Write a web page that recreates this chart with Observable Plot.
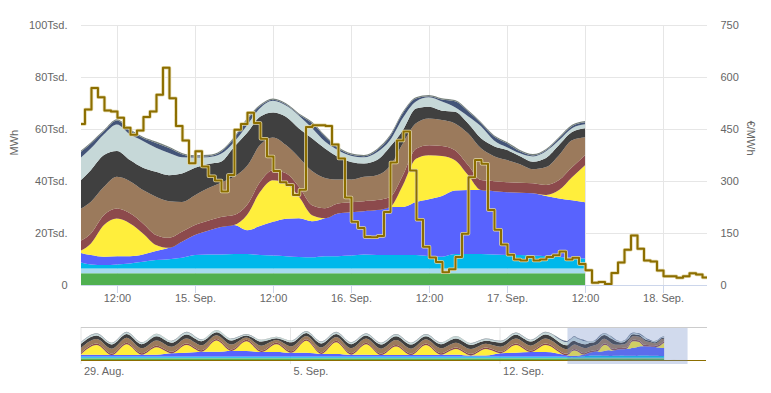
<!DOCTYPE html>
<html><head><meta charset="utf-8">
<script src="https://cdn.jsdelivr.net/npm/d3@7"></script>
<script src="https://cdn.jsdelivr.net/npm/@observablehq/plot@0.6"></script>
<style>
body{margin:0;background:#fff;}
#chart{position:relative;width:771px;height:393px;}
#main{position:absolute;left:0;top:0;}
#nav{position:absolute;left:0;top:310px;}
</style></head><body><div id="chart"><div id="main"></div><div id="nav"></div></div>
<script>
// ---------- layers ----------
const layerNames = ["Biomasse","Wasserkraft","Wind Offshore","Wind Onshore","Solar","Kernenergie","Braunkohle","Steinkohle","Erdgas","Öl","Andere"];
const layerColors = ["#50b050","#a6daf0","#00b8eb","#5863fe","#ffee3c","#8c4a4c","#9b7a5c","#404040","#c6d8d8","#435478","#78827d"];

// ---------- main chart (thousand MWh) ----------
const areaTimes = ["2022-09-14T06:00","2022-09-14T08:00","2022-09-14T10:00","2022-09-14T12:00","2022-09-14T14:00","2022-09-14T16:00","2022-09-14T18:00","2022-09-14T20:00","2022-09-14T22:00",
"2022-09-15T00:00","2022-09-15T02:00","2022-09-15T04:00","2022-09-15T06:00","2022-09-15T08:00","2022-09-15T10:00","2022-09-15T12:00","2022-09-15T14:00","2022-09-15T16:00","2022-09-15T18:00","2022-09-15T20:00","2022-09-15T22:00",
"2022-09-16T00:00","2022-09-16T02:00","2022-09-16T04:00","2022-09-16T06:00","2022-09-16T08:00","2022-09-16T10:00","2022-09-16T12:00","2022-09-16T14:00","2022-09-16T16:00","2022-09-16T18:00","2022-09-16T20:00","2022-09-16T22:00",
"2022-09-17T00:00","2022-09-17T02:00","2022-09-17T04:00","2022-09-17T06:00","2022-09-17T08:00","2022-09-17T10:00","2022-09-17T12:00"];
const biomass  = [4.5,4.5,4.5,4.5,4.5,4.5,4.5,4.5,4.5,4.5,4.5,4.5,4.5,4.5,4.5,4.5,4.5,4.5,4.5,4.5,4.5,4.5,4.5,4.5,4.5,4.5,4.5,4.5,4.5,4.5,4.5,4.5,4.5,4.5,4.5,4.5,4.5,4.5,4.5,4.5];
const hydro    = [1.8,1.8,1.8,1.8,1.8,1.8,1.8,1.8,1.8,1.8,1.8,1.8,1.8,1.8,1.8,1.8,1.8,1.8,1.8,1.8,1.8,1.8,1.8,1.8,1.8,1.8,1.8,1.8,1.8,1.8,1.8,1.8,1.8,1.8,1.8,1.8,1.8,1.8,1.8,1.8];
const offshore = [2.7,1.6,1.35,1.6,2.0,2.6,3.3,3.65,4.15,5.2,5.45,5.4,5.6,5.6,5.2,5.0,4.8,4.5,4.4,4.8,4.8,5.0,5.45,5.2,5.2,5.2,5.2,4.8,4.6,5.6,5.6,5.6,5.4,5.2,5.2,5.0,4.8,4.5,4.2,3.9];
const onshore  = [3.65,3.6,3.2,3.2,2.8,2.85,3.5,4.35,6.15,7.7,9.1,10.6,11.15,9.2,11.15,13.0,14.4,14.9,13.85,14.6,16.4,16.7,16.65,17.3,18.5,18.5,20.4,21.9,23.3,24.4,24.6,24.6,24.4,24.2,24.0,24.0,23.1,22.5,22.1,21.65];
const solar    = [0,4.5,12.2,14.5,12.6,8.1,2.3,0,0,0,0,0,0,5.8,13.1,16.0,13.65,8.2,2.3,0,0,0,0,0,0,8.5,16.7,16.9,15.4,11.7,5.8,0,0,0,0,0,0.4,3.2,8.85,14.2];
const nuclear  = [3.85,3.85,3.85,3.85,3.85,3.85,3.85,3.85,3.85,3.85,3.85,3.85,3.85,3.85,3.85,3.85,3.85,3.85,3.85,3.85,3.85,3.85,3.85,3.85,3.85,3.85,3.85,3.85,3.85,3.85,3.85,3.85,3.85,3.85,3.85,3.85,3.85,3.85,3.85,3.85];
const lignite  = [12.3,12.2,10.9,12.2,12.4,12.8,14.7,14.1,11.5,11.5,12.5,13.2,14.7,15.0,14.2,12.6,10.8,11.3,13.1,11.65,9.2,8.7,9.35,9.6,11.9,12.2,9.8,10.3,10.0,10.3,12.2,12.2,9.6,8.5,7.1,5.4,6.9,9.6,10.4,6.9];
const coal     = [10.4,12.2,12.2,9.9,8.1,8.6,9.6,10.0,10.9,10.5,9.35,8.1,11.5,12.7,10.9,9.6,10.9,11.15,12.6,11.3,8.7,6.8,5.15,5.8,7.4,5.1,5.65,4.5,3.6,4.5,3.85,3.85,3.85,3.85,3.1,2.9,3.5,3.85,3.1,3.5];
const gas      = [8.8,8.3,8.0,10.2,9.9,10.3,9.2,8.5,6.3,4.0,2.6,3.0,1.85,2.9,3.3,4.5,4.3,4.9,4.0,2.7,2.6,2.4,2.35,3.0,2.5,4.65,2.7,3.65,3.5,1.7,2.7,4.65,2.2,1.1,1.1,2.0,2.6,1.85,1.5,1.5];
const oil      = [2.3,1.9,1.15,1.5,1.5,1.15,1.9,1.9,1.15,0.4,0.4,0.8,1.5,2.3,0.8,0.4,0.4,0.4,1.9,1.9,0.8,0.4,0.4,0.8,1.5,1.9,1.15,0.4,0.8,2.3,1.9,1.15,1.5,1.5,0.8,0.4,0.4,0.8,0.8,0.8];
const others   = [0.5,0.5,0.5,0.5,0.5,0.5,0.5,0.5,0.5,0.5,0.5,0.5,0.5,0.5,0.5,0.5,0.5,0.5,0.5,0.5,0.5,0.5,0.5,0.5,0.5,0.5,0.5,0.5,0.5,0.5,0.5,0.5,0.5,0.5,0.5,0.5,0.5,0.5,0.5,0.5];
const layerValues = [biomass,hydro,offshore,onshore,solar,nuclear,lignite,coal,gas,oil,others];

// ---------- day-ahead price (€/MWh), hourly ----------
const priceSep14 = [466,508,570,543,505,502,484,455,435,447,486,502,550,628,540,460,418,353]; // from 06:00
const priceSep15 = [387,343,315,303,271,319,449,466,498,469,423,372,330,298,290,261,276,457,462,462,460,407,366,254];
const priceSep16 = [184,166,140,139,143,212,355,418,444,332,190,112,81,68,38,47,82,149,312,362,351,218,161,118];
const priceSep17 = [89,75,72,82,72,75,82,87,98,75,80,62,44,8,10,4,36,66,103,144,106,72,69,43];
const priceSep18 = [27,27,22,27,35,32,23]; // from 00:00
const priceDays = [["2022-09-14",6,priceSep14],["2022-09-15",0,priceSep15],["2022-09-16",0,priceSep16],["2022-09-17",0,priceSep17],["2022-09-18",0,priceSep18]];

// ---------- axes ----------
const yTicks = [0,20,40,60,80,100];
const yTickLabels = ["0","20Tsd.","40Tsd.","60Tsd.","80Tsd.","100Tsd."];
const priceTickLabels = ["0","150","300","450","600","750"];
const priceMax = 750;
const xTickTimes = ["2022-09-14T12:00","2022-09-15T00:00","2022-09-15T12:00","2022-09-16T00:00","2022-09-16T12:00","2022-09-17T00:00","2022-09-17T12:00","2022-09-18T00:00"];
const xTickLabels = ["12:00","15. Sep.","12:00","16. Sep.","12:00","17. Sep.","12:00","18. Sep."];
const mainDomain = ["2022-09-14T06:28","2022-09-18T06:46"];

// ---------- navigator (thousand MWh) ----------
const navTimes = ["2022-08-29T00:00","2022-08-29T13:00","2022-08-30T01:00","2022-08-30T13:00","2022-08-31T01:00","2022-08-31T13:00","2022-09-01T01:00","2022-09-01T13:00",
"2022-09-02T01:00","2022-09-02T13:00","2022-09-03T01:00","2022-09-03T13:00","2022-09-04T01:00","2022-09-04T13:00","2022-09-05T01:00","2022-09-05T13:00",
"2022-09-06T01:00","2022-09-06T13:00","2022-09-07T01:00","2022-09-07T13:00","2022-09-08T01:00","2022-09-08T13:00","2022-09-09T01:00","2022-09-09T13:00",
"2022-09-10T01:00","2022-09-10T13:00","2022-09-11T01:00","2022-09-11T13:00","2022-09-12T01:00","2022-09-12T13:00","2022-09-13T01:00","2022-09-13T13:00"];
const navBiomass  = [4.5,4.5,4.5,4.5,4.5,4.5,4.5,4.5,4.5,4.5,4.5,4.5,4.5,4.5,4.5,4.5,4.5,4.5,4.5,4.5,4.5,4.5,4.5,4.5,4.5,4.5,4.5,4.5,4.5,4.5,4.5,4.5];
const navHydro    = [1.8,1.8,1.8,1.8,1.8,1.8,1.8,1.8,1.8,1.8,1.8,1.8,1.8,1.8,1.8,1.8,1.8,1.8,1.8,1.8,1.8,1.8,1.8,1.8,1.8,1.8,1.8,1.8,1.8,1.8,1.8,1.8];
const navOffshore = [3,3,3,3,3,3,3,3,3,3,3,3,3,3,3,3,3,3,3,3,3,3,3,3,3,3,3,3,3,3,3,3];
const navOnshore  = [5,5,4,4,5,5,9,10,13,13,15,15,12,12,10,10,7,7,5,5,4,4,4,4,5,5,3,3,9,10,12,12];
const navSolar    = [0,26,0,29,0,20,0,21,0,30,0,26,0,21,0,32,0,31,0,28,0,23,0,27,0,15,0,17,0,21,0,19];
const navNuclear  = [3.85,3.85,3.85,3.85,3.85,3.85,3.85,3.85,3.85,3.85,3.85,3.85,3.85,3.85,3.85,3.85,3.85,3.85,3.85,3.85,3.85,3.85,3.85,3.85,3.85,3.85,3.85,3.85,3.85,3.85,3.85,3.85];
const navLignite  = [13,12,13,13,13,14,13,13,13,10,13,6,13,7,13,9,13,10,13,11,13,13,13,11,13,13,13,10,13,13,13,13];
const navCoal     = [11,9,11,10,11,11,11,11,11,8,11,5,11,5,11,8,11,8,11,8,11,10,11,8,11,11,11,8,11,10,11,11];
const navGas      = [4,5,4,5,4,6,4,6,4,5,4,3,4,3,4,4,4,5,4,5,4,5,4,5,4,6,4,5,4,5,4,6];
const navOil      = [0.5,0.5,0.5,0.5,0.5,0.5,0.5,0.5,0.5,0.5,0.5,0.5,0.5,0.5,0.5,0.5,0.5,0.5,0.5,0.5,0.5,0.5,0.5,0.5,0.5,0.5,0.5,0.5,0.5,0.5,0.5,0.5];
const navOthers   = [0.5,0.5,0.5,0.5,0.5,0.5,0.5,0.5,0.5,0.5,0.5,0.5,0.5,0.5,0.5,0.5,0.5,0.5,0.5,0.5,0.5,0.5,0.5,0.5,0.5,0.5,0.5,0.5,0.5,0.5,0.5,0.5];
const navLayerValues = [navBiomass,navHydro,navOffshore,navOnshore,navSolar,navNuclear,navLignite,navCoal,navGas,navOil,navOthers];
const navDomain = ["2022-08-29T00:24","2022-09-18T21:34"];
const navTickTimes = ["2022-08-29T00:00","2022-09-05T00:00","2022-09-12T00:00"];
const navTickLabels = ["29. Aug.","5. Sep.","12. Sep."];

// ---------- build tables ----------
const T = s => new Date(s + ":00Z");
const areaData = [];
layerNames.forEach((name, li) => layerValues[li].forEach((v, i) => areaData.push({t: T(areaTimes[i]), layer: name, v})));
const navData = [];
layerNames.forEach((name, li) => {
  navLayerValues[li].forEach((v, i) => navData.push({t: T(navTimes[i]), layer: name, v}));
  layerValues[li].forEach((v, i) => navData.push({t: T(areaTimes[i]), layer: name, v}));
});
const priceData = [];
priceDays.forEach(([day, h0, arr]) => arr.forEach((p, i) => priceData.push({t: new Date(Date.parse(day + "T00:00:00Z") + (h0 + i) * 3600e3), p})));
const lastP = priceData[priceData.length - 1];
priceData.push({t: new Date(+lastP.t + 3600e3), p: lastP.p});

const xTicksD = xTickTimes.map(T);
const navTicksD = navTickTimes.map(T);
const font = {fontFamily: "'Liberation Sans', Arial, sans-serif", fontSize: "11px", color: "#666666", background: "white", overflow: "visible"};
const colorScale = {domain: layerNames, range: layerColors};

const main = Plot.plot({
  width: 771, height: 310,
  marginLeft: 81, marginRight: 64, marginTop: 25, marginBottom: 25,
  style: font,
  x: {type: "utc", domain: mainDomain.map(T)},
  y: {domain: [0, 100]},
  color: colorScale,
  marks: [
    Plot.gridY(yTicks, {stroke: "#e6e6e6", strokeOpacity: 1}),
    Plot.gridX(xTicksD, {stroke: "#e6e6e6", strokeOpacity: 1}),
    Plot.areaY(areaData, {x: "t", y: "v", z: "layer", fill: "layer", order: layerNames, curve: "monotone-x", clip: true}),
    Plot.ruleY([0], {stroke: "#ccd6eb"}),
    Plot.line(priceData, {x: "t", y: d => d.p * 100 / priceMax, curve: "step-after", stroke: "#e2d7a8", strokeWidth: 3.5, clip: true}),
    Plot.line(priceData, {x: "t", y: d => d.p * 100 / priceMax, curve: "step-after", stroke: "#8c6e00", strokeWidth: 2, clip: true}),
    Plot.axisY({ticks: yTicks, tickFormat: d => yTickLabels[yTicks.indexOf(d)], tickSize: 0, tickPadding: 14, label: null, fill: "#666"}),
    Plot.axisY({anchor: "right", ticks: yTicks, tickFormat: d => priceTickLabels[yTicks.indexOf(d)], tickSize: 0, tickPadding: 13, label: null, fill: "#666"}),
    Plot.axisX({ticks: xTicksD, tickFormat: d => xTickLabels[xTicksD.findIndex(t => +t === +d)], tickSize: 8, tickPadding: 1, stroke: "#ccd6eb", fill: "#666", label: null}),
    Plot.text(["MWh"], {text: d => d, frameAnchor: "left", dx: -67, rotate: -90, fill: "#666", fontSize: 11}),
    Plot.text(["€/MWh"], {text: d => d, frameAnchor: "right", dx: 43, rotate: 90, fill: "#666", fontSize: 11})
  ]
});
document.getElementById("main").append(main);

const maskData = [{x1: T(mainDomain[0]), x2: T(mainDomain[1])}];
const nav = Plot.plot({
  width: 771, height: 83,
  marginLeft: 81, marginRight: 65, marginTop: 17, marginBottom: 33,
  style: font,
  x: {type: "utc", domain: navDomain.map(T), axis: null},
  y: {domain: [0, 88], axis: null},
  color: colorScale,
  marks: [
    Plot.gridX(navTicksD, {stroke: "#e6e6e6", strokeOpacity: 1, insetBottom: -4}),
    Plot.areaY(navData, {x: "t", y: "v", z: "layer", fill: "layer", order: layerNames, curve: "monotone-x", clip: true}),
    Plot.ruleY([0], {stroke: "#8c6e00", strokeWidth: 1}),
    Plot.line(priceData, {x: "t", y: d => d.p / 1000, stroke: "#8c6e00", strokeWidth: 1, curve: "step-after"}),
    Plot.rect(maskData, {x1: "x1", x2: "x2", fill: "#6685c2", fillOpacity: 0.3, insetBottom: -4}),
    Plot.frame({anchor: "top", stroke: "#cccccc"}),
    Plot.text(navTicksD, {x: d => d, text: (d, i) => navTickLabels[i], frameAnchor: "bottom", textAnchor: "start", lineAnchor: "top", dx: 3, dy: 7, fill: "#666", fontSize: 11})
  ]
});
document.getElementById("nav").append(nav);
</script>
</body></html>
